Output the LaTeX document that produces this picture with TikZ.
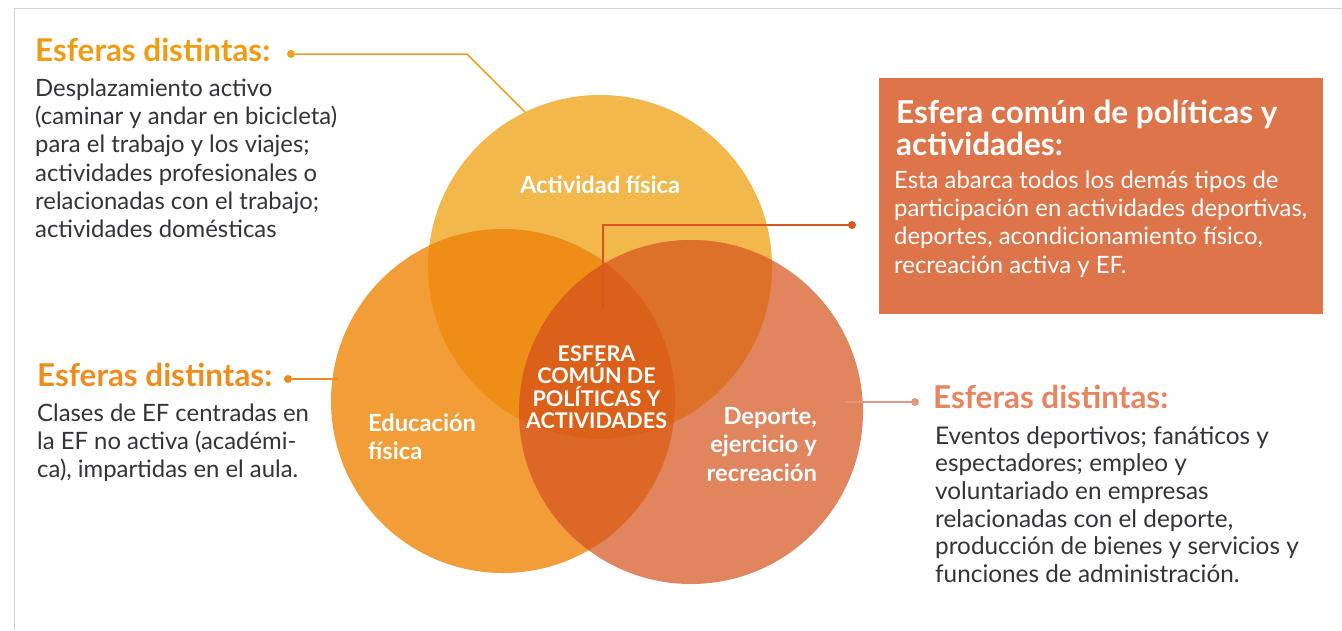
\documentclass[tikz,border=0pt]{standalone}
\usepackage{fontspec}
\setmainfont{Lato}
\definecolor{ctop}{HTML}{F2B84C}
\definecolor{cleft}{HTML}{F29D38}
\definecolor{cright}{HTML}{E0855E}
\definecolor{ctl}{HTML}{EF8E17}
\definecolor{ctr}{HTML}{DD7129}
\definecolor{clr}{HTML}{DC6726}
\definecolor{call}{HTML}{DB611B}
\definecolor{cbox}{HTML}{DE7449}
\definecolor{ctext}{HTML}{333338}
\definecolor{hA}{HTML}{F09C12}
\definecolor{hB}{HTML}{F08C1C}
\definecolor{hC}{HTML}{E8845E}
\definecolor{lnA}{HTML}{EFA020}
\definecolor{lnB}{HTML}{EE8A1E}
\definecolor{lnC}{HTML}{E8967A}
\definecolor{lnD}{HTML}{D9561F}
\definecolor{cframe}{HTML}{D2D2D2}
\newlength\calw
\newcommand\calsize[4]{\settowidth\calw{#2\fontsize{20pt}{20pt}\selectfont #3}\pgfmathsetmacro#1{20*#4/\calw}}
\newcommand\mystrut{\rule{0pt}{30pt}}
\begin{document}
\calsize\szLH{\bfseries}{Esferas distintas:}{235}
\calsize\szLB{}{(caminar y andar en bicicleta)}{302}
\calsize\szRB{}{relacionadas con el deporte,}{298}
\calsize\szBT{\bfseries}{Esfera común de políticas y}{381}
\calsize\szBB{}{participación en actividades deportivas,}{413}
\calsize\szCL{\bfseries}{Actividad física}{160}
\calsize\szCC{\bfseries}{ACTIVIDADES}{141}
\begin{tikzpicture}[x=1pt,y=-1pt,
  txt/.style={inner sep=0pt, yshift=30pt},
  tl/.style={txt, anchor=north west, align=left},
  head/.style={tl, font=\fontsize{\szLH}{30}\selectfont\bfseries},
  lbody/.style={tl, text=ctext, font=\fontsize{\szLB}{28.3}\selectfont},
  rbody/.style={tl, text=ctext, font=\fontsize{\szRB}{27.6}\selectfont},
  clabel/.style={txt, text=white, font=\fontsize{\szCL}{28.4}\selectfont\bfseries},
  dot/.style={circle, inner sep=0pt, minimum size=8pt},
  conn/.style={line width=1.5pt},
  frame/.style={draw=cframe, line width=1pt}]
\useasboundingbox (0,0) rectangle (1342,630);
\fill[white] (0,0) rectangle (1342,630);
\draw[frame] (1342,8.5) -- (14.5,8.5) -- (14.5,630);
% circles
\coordinate (T) at (600,267);
\coordinate (L) at (503,401);
\coordinate (R) at (691,412);
\fill[ctop] (T) circle[radius=172pt];
\fill[cleft] (L) circle[radius=172pt];
\fill[cright] (R) circle[radius=172pt];
\begin{scope}
  \clip (L) circle[radius=172pt];
  \fill[clr] (R) circle[radius=172pt];
\end{scope}
\begin{scope}
  \clip (T) circle[radius=172pt];
  \fill[ctl] (L) circle[radius=172pt];
  \fill[ctr] (R) circle[radius=172pt];
  \clip (L) circle[radius=172pt];
  \fill[call] (R) circle[radius=172pt];
\end{scope}
% box
\node[fill=cbox, minimum width=444pt, minimum height=236pt, anchor=north west, inner sep=0pt] (box) at (879,78) {};
% connectors
\coordinate (e1) at (525,112);
\coordinate (k1) at (467,54);
\coordinate (e2) at (338,379);
\coordinate (e3) at (845,402);
\coordinate (e4) at (603,308);
\coordinate (k4) at (603,225);
\node[dot, fill=lnA] (d1) at (291,54) {};
\node[dot, fill=lnB] (d2) at (288,379) {};
\node[dot, fill=lnC] (d3) at (915,402) {};
\node[dot, fill=lnD] (d4) at (852,225) {};
\draw[conn, lnA] (d1.center) -- (k1) -- (e1);
\draw[conn, lnB] (d2.center) -- (e2);
\draw[conn, lnC] (e3) -- (d3.center);
\draw[conn, lnD] (e4) -- (k4) -- (d4.center);
% left texts
\node[head, text=hA] (h1) at (35,61) {\mystrut Esferas distintas:};
\node[lbody] (b1) at (35,96) {\mystrut Desplazamiento activo\\(caminar y andar en bicicleta)\\para el trabajo y los viajes;\\actividades profesionales o\\relacionadas con el trabajo;\\actividades domésticas};
\node[head, text=hB] (h2) at (37,386) {\mystrut Esferas distintas:};
\node[lbody] (b2) at (37,421) {\mystrut Clases de EF centradas en\\la EF no activa (académi-\\ca), impartidas en el aula.};
% right texts
\node[head, text=hC] (h3) at (933,408) {\mystrut Esferas distintas:};
\node[rbody] (b3) at (935,444) {\mystrut Eventos deportivos; fanáticos y\\espectadores; empleo y\\voluntariado en empresas\\relacionadas con el deporte,\\producción de bienes y servicios y\\funciones de administración.};
% box texts
\node[tl, text=white, font=\fontsize{\szBT}{32}\selectfont\bfseries] (bt) at (896,123) {\mystrut Esfera común de políticas y\\actividades:};
\node[tl, text=white, font=\fontsize{\szBB}{28.3}\selectfont] (bb) at (894,188) {\mystrut Esta abarca todos los demás tipos de\\participación en actividades deportivas,\\deportes, acondicionamiento físico,\\recreación activa y EF.};
% circle labels
\node[clabel, anchor=north, align=center] (la) at (600,193) {\mystrut Actividad física};
\node[clabel, anchor=north west, align=left] (le) at (368,431) {\mystrut Educación\\física};
\node[clabel, anchor=north east, align=right] (ld) at (817,424) {\mystrut Deporte,\\ejercicio y\\recreación};
\node[txt, text=white, anchor=north, align=center, font=\fontsize{\szCC}{22.5}\selectfont\bfseries] (lc) at (596.5,361) {\mystrut ESFERA\\COMÚN DE\\POLÍTICAS Y\\ACTIVIDADES};
\end{tikzpicture}
\end{document}
